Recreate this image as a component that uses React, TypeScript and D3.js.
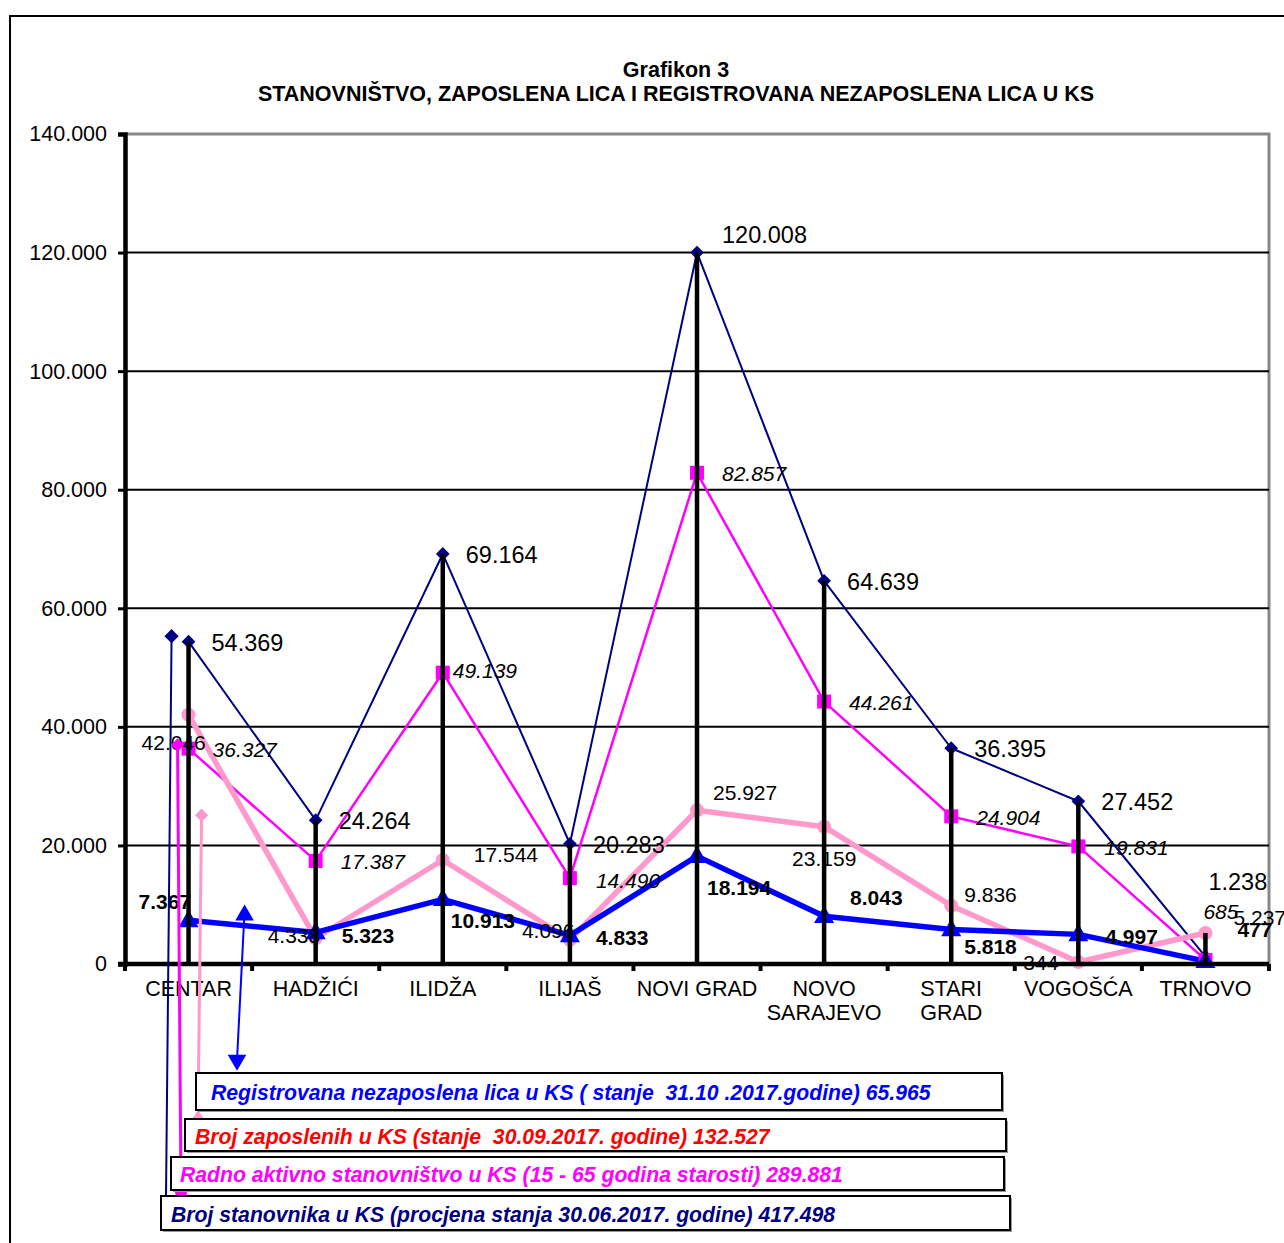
import { useEffect, useRef } from "react";
import * as d3 from "d3";

// categories (municipalities of Canton Sarajevo)
const categories = [
  "CENTAR",
  "HADŽIĆI",
  "ILIDŽA",
  "ILIJAŠ",
  "NOVI GRAD",
  "NOVO SARAJEVO",
  "STARI GRAD",
  "VOGOŠĆA",
  "TRNOVO",
];

const population = [54369, 24264, 69164, 20283, 120008, 64639, 36395, 27452, 1238];
const workingAge = [36327, 17387, 49139, 14490, 82857, 44261, 24904, 19831, 685];
const employed = [42046, 4338, 17544, 4096, 25927, 23159, 9836, 344, 5237];
const unemployed = [7367, 5323, 10913, 4833, 18194, 8043, 5818, 4997, 477];

const yTicks = [0, 20000, 40000, 60000, 80000, 100000, 120000, 140000];

const legendTexts = [
  "Registrovana nezaposlena lica u KS ( stanje  31.10 .2017.godine) 65.965",
  "Broj zaposlenih u KS (stanje  30.09.2017. godine) 132.527",
  "Radno aktivno stanovništvo u KS (15 - 65 godina starosti) 289.881",
  "Broj stanovnika u KS (procjena stanja 30.06.2017. godine) 417.498",
];

const W = 1284;
const H = 1243;
const FONT = "'Liberation Sans', Arial, sans-serif";

const fmt = (v: number) => d3.format(",")(v).replace(/,/g, ".");

// label offsets [dx, dy] per point, relative to the marker
const popLabelOff = [[23, 1], [23, 1], [23, 1], [23, 1], [25, -18], [23, 1], [23, 1], [23, 1], [3, -75]];
const workLabelOff = [[24, 1], [25, 1], [10, -2], [26, 2], [25, 1], [25, 1], [25, 1], [26, 1], [-2, -48]];
const empLabelOff = [[-47, 28], [-48, -3], [31, -5], [-48, -9], [16, -18], [-32, 32], [13, -11], [-55, 1], [28, -15]];
const unempLabelOff = [[-50, -19], [26, 3], [8, 21], [26, 2], [10, 31], [26, -19], [13, 17], [27, 2], [32, -32]];

const App = () => {
  const svgRef = useRef<SVGSVGElement>(null);

  useEffect(() => {
    const svg = d3.select(svgRef.current);
    svg.selectAll("*").remove();

    const left = 125;
    const right = 1269;
    const top = 134;
    const bottom = 964;

    const x = d3.scaleBand().domain(categories).range([left, right]);
    const cx = (c: string) => (x(c) || 0) + x.bandwidth() / 2;
    const y = d3.scaleLinear().domain([0, 140000]).range([bottom, top]);

    // outer frame
    svg
      .append("path")
      .attr("d", `M10,${H} L10,16 L${W},16`)
      .attr("fill", "none")
      .attr("stroke", "#000")
      .attr("stroke-width", 2);

    // title
    const title = svg
      .append("text")
      .attr("x", 676)
      .attr("text-anchor", "middle")
      .attr("font-family", FONT)
      .attr("font-weight", "bold")
      .attr("font-size", 21.5);
    title.append("tspan").attr("x", 676).attr("y", 77).text("Grafikon 3");
    title
      .append("tspan")
      .attr("x", 676)
      .attr("y", 101)
      .text("STANOVNIŠTVO, ZAPOSLENA LICA I REGISTROVANA NEZAPOSLENA LICA U KS");

    // plot area border (grey) top and right
    svg
      .append("path")
      .attr("d", `M${left},${y(140000)} L${right},${y(140000)} L${right},${bottom}`)
      .attr("fill", "none")
      .attr("stroke", "#888")
      .attr("stroke-width", 3);

    // grid lines
    svg
      .selectAll(".grid")
      .data(yTicks.filter((t) => t > 0 && t < 140000))
      .enter()
      .append("line")
      .attr("x1", left)
      .attr("x2", right)
      .attr("y1", (d) => y(d))
      .attr("y2", (d) => y(d))
      .attr("stroke", "#000")
      .attr("stroke-width", 2);

    // series
    const series = [
      { values: population, color: "#000080", width: 2 },
      { values: workingAge, color: "#FF00FF", width: 2.5 },
      { values: employed, color: "#FF99CC", width: 5.5 },
      { values: unemployed, color: "#0000FF", width: 5.5 },
    ];

    const line = d3
      .line<number>()
      .x((_d, i) => cx(categories[i]))
      .y((d) => y(d));

    series.forEach((s) => {
      svg
        .append("path")
        .datum(s.values)
        .attr("d", line)
        .attr("fill", "none")
        .attr("stroke", s.color)
        .attr("stroke-width", s.width)
        .attr("stroke-linejoin", "round");
    });

    // markers
    const diamond = d3.symbol().type(d3.symbolDiamond2).size(120);
    svg
      .selectAll(".pop-m")
      .data(population)
      .enter()
      .append("path")
      .attr("d", diamond)
      .attr("transform", (d, i) => `translate(${cx(categories[i])},${y(d)})`)
      .attr("fill", "#000080");

    svg
      .selectAll(".work-m")
      .data(workingAge)
      .enter()
      .append("rect")
      .attr("x", (_d, i) => cx(categories[i]) - 7)
      .attr("y", (d) => y(d) - 7)
      .attr("width", 14)
      .attr("height", 14)
      .attr("fill", "#FF00FF");

    svg
      .selectAll(".emp-m")
      .data(employed)
      .enter()
      .append("circle")
      .attr("cx", (_d, i) => cx(categories[i]))
      .attr("cy", (d) => y(d))
      .attr("r", 7)
      .attr("fill", "#FF99CC");

    const tri = d3.symbol().type(d3.symbolTriangle).size(175);
    svg
      .selectAll(".unemp-m")
      .data(unemployed)
      .enter()
      .append("path")
      .attr("d", tri)
      .attr("transform", (d, i) => `translate(${cx(categories[i])},${y(d) + 1})`)
      .attr("fill", "#0000FF");

    // data labels
    const labelSets = [
      { values: population, off: popLabelOff, size: 23.5, style: "normal", weight: "normal" },
      { values: workingAge, off: workLabelOff, size: 21, style: "italic", weight: "normal" },
      { values: employed, off: empLabelOff, size: 21, style: "normal", weight: "normal" },
      { values: unemployed, off: unempLabelOff, size: 21, style: "normal", weight: "bold" },
    ];
    labelSets.forEach((ls) => {
      svg
        .append("g")
        .selectAll("text")
        .data(ls.values)
        .enter()
        .append("text")
        .attr("x", (_d, i) => cx(categories[i]) + ls.off[i][0])
        .attr("y", (d, i) => y(d) + ls.off[i][1])
        .attr("dominant-baseline", "central")
        .attr("font-family", FONT)
        .attr("font-size", ls.size)
        .attr("font-style", ls.style)
        .attr("font-weight", ls.weight)
        .attr("fill", "#000")
        .text((d) => fmt(d));
    });

    // drop lines to the highest value of each category
    svg
      .selectAll(".drop")
      .data(categories)
      .enter()
      .append("line")
      .attr("x1", (c) => cx(c))
      .attr("x2", (c) => cx(c))
      .attr("y1", bottom)
      .attr("y2", (_c, i) =>
        y(Math.max(population[i], workingAge[i], employed[i], unemployed[i]))
      )
      .attr("stroke", "#000")
      .attr("stroke-width", 4.5);

    // y axis
    const yAxis = d3
      .axisLeft(y)
      .tickValues(yTicks)
      .tickSize(7)
      .tickPadding(11)
      .tickFormat((d) => fmt(d as number));
    const yg = svg.append("g").attr("transform", `translate(${left},0)`).call(yAxis);
    yg.select(".domain").attr("stroke", "#000").attr("stroke-width", 4.5);
    yg.selectAll(".tick line").attr("stroke", "#000").attr("stroke-width", 3);
    yg.selectAll(".tick text")
      .attr("font-family", FONT)
      .attr("font-size", 21.5)
      .attr("fill", "#000");

    // x axis line with ticks on band boundaries
    svg
      .append("line")
      .attr("x1", left - 7)
      .attr("x2", right)
      .attr("y1", bottom)
      .attr("y2", bottom)
      .attr("stroke", "#000")
      .attr("stroke-width", 4.5);
    const bounds = categories.map((c) => x(c) || 0).concat([right]);
    svg
      .selectAll(".xtick")
      .data(bounds)
      .enter()
      .append("line")
      .attr("x1", (d) => d)
      .attr("x2", (d) => d)
      .attr("y1", bottom)
      .attr("y2", bottom + 7)
      .attr("stroke", "#000")
      .attr("stroke-width", 4);

    // category labels
    categories.forEach((c) => {
      const words = c === "NOVI GRAD" ? [c] : c.split(" ");
      const t = svg
        .append("text")
        .attr("text-anchor", "middle")
        .attr("font-family", FONT)
        .attr("font-size", 21.5)
        .attr("fill", "#000");
      words.forEach((w, j) => {
        t.append("tspan")
          .attr("x", cx(c))
          .attr("y", 996 + j * 24)
          .text(w);
      });
    });

    // callout connectors from legend boxes into the plot
    const c0 = cx(categories[0]);
    const connectors = [
      { color: "#000080", from: [c0 - 17, y(55300)], to: [166, 1197], w: 2 },
      { color: "#FF00FF", from: [c0 - 11, y(36950)], to: [181, 1191], w: 3 },
      { color: "#FF99CC", from: [c0 + 13, y(25100)], to: [198, 1118], w: 3 },
      { color: "#0000FF", from: [c0 + 56, y(8900)], to: [237, 1060], w: 2 },
    ];
    connectors.forEach((k) => {
      svg
        .append("line")
        .attr("x1", k.from[0])
        .attr("y1", k.from[1])
        .attr("x2", k.to[0])
        .attr("y2", k.to[1])
        .attr("stroke", k.color)
        .attr("stroke-width", k.w);
    });
    // connector heads
    svg
      .append("path")
      .attr("d", d3.symbol().type(d3.symbolDiamond2).size(130))
      .attr("transform", `translate(${connectors[0].from[0]},${connectors[0].from[1]})`)
      .attr("fill", "#000080");
    svg
      .append("path")
      .attr("d", d3.symbol().type(d3.symbolDiamond2).size(110))
      .attr("transform", `translate(${connectors[1].from[0]},${connectors[1].from[1]})`)
      .attr("fill", "#FF00FF");
    svg
      .append("ellipse")
      .attr("cx", connectors[1].to[0])
      .attr("cy", connectors[1].to[1] + 2)
      .attr("rx", 6)
      .attr("ry", 4)
      .attr("fill", "#FF00FF");
    svg
      .append("path")
      .attr("d", d3.symbol().type(d3.symbolDiamond2).size(110))
      .attr("transform", `translate(${connectors[2].from[0]},${connectors[2].from[1]})`)
      .attr("fill", "#FF99CC");
    svg
      .append("path")
      .attr("d", `M${connectors[2].to[0] - 5},${connectors[2].to[1]} L${connectors[2].to[0]},${connectors[2].to[1] - 8} L${connectors[2].to[0] + 5},${connectors[2].to[1]} Z`)
      .attr("fill", "#FF99CC");
    svg
      .append("path")
      .attr("d", d3.symbol().type(d3.symbolTriangle).size(150))
      .attr("transform", `translate(${connectors[3].from[0]},${connectors[3].from[1] + 4})`)
      .attr("fill", "#0000FF");
    svg
      .append("path")
      .attr("d", d3.symbol().type(d3.symbolTriangle).size(150))
      .attr("transform", `translate(${connectors[3].to[0]},${connectors[3].to[1]}) rotate(180)`)
      .attr("fill", "#0000FF");

    // legend text boxes
    const boxes = [
      { x: 196, y: 1073, w: 806, h: 37, tx: 15, color: "#0000FF" },
      { x: 185, y: 1119, w: 821, h: 32, tx: 10, color: "#FF0000" },
      { x: 171, y: 1157, w: 833, h: 33, tx: 9, color: "#FF00FF" },
      { x: 161, y: 1196, w: 849, h: 34, tx: 10, color: "#000080" },
    ];
    boxes.forEach((b, i) => {
      svg
        .append("rect")
        .attr("x", b.x + 2)
        .attr("y", b.y + 2)
        .attr("width", b.w)
        .attr("height", b.h)
        .attr("fill", "#999");
      svg
        .append("rect")
        .attr("x", b.x)
        .attr("y", b.y)
        .attr("width", b.w)
        .attr("height", b.h)
        .attr("fill", "#fff")
        .attr("stroke", "#000")
        .attr("stroke-width", 2);
      svg
        .append("text")
        .attr("x", b.x + b.tx)
        .attr("y", b.y + b.h / 2 + 1)
        .attr("dominant-baseline", "central")
        .attr("font-family", FONT)
        .attr("font-size", 21.2)
        .attr("font-weight", "bold")
        .attr("font-style", "italic")
        .attr("fill", b.color)
        .style("white-space", "pre")
        .text(legendTexts[i]);
    });
  }, []);

  return (
    <svg
      ref={svgRef}
      width={W}
      height={H}
      style={{ position: "absolute", left: 0, top: 0, background: "#fff" }}
    />
  );
};

export default App;
